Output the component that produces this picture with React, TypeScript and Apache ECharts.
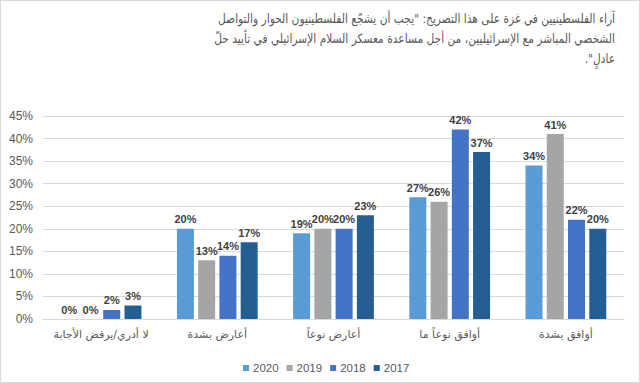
import React, { useEffect, useRef } from "react";
import * as echarts from "echarts";

const categories = [
  "لا أدري/يرفض الأجابة",
  "أعارض بشدة",
  "أعارض نوعاً",
  "أوافق نوعاً ما",
  "أوافق بشدة",
];
const seriesNames = ["2020", "2019", "2018", "2017"];
const values2020 = [0, 20, 19, 27, 34];
const values2019 = [0, 13, 20, 26, 41];
const values2018 = [2, 14, 20, 42, 22];
const values2017 = [3, 17, 23, 37, 20];
const colors = ["#5B9BD5", "#A5A5A5", "#4472C4", "#255E91"];
const titleLines = [
  "آراء الفلسطينيين في غزة على هذا التصريح: \"يجب أن يشجّع الفلسطينيون الحوار والتواصل",
  "الشخصي المباشر مع الإسرائيليين، من أجل مساعدة معسكر السلام الإسرائيلي في تأييد حلّ",
  "عادلٍ\".",
];

export default function App() {
  const ref = useRef<HTMLDivElement>(null);
  useEffect(() => {
    if (!ref.current) return;
    const chart = echarts.init(ref.current, null, { renderer: "svg" });
    const all = [values2020, values2019, values2018, values2017];
    chart.setOption({
      animation: false,
      backgroundColor: "#ffffff",
      graphic: titleLines.map((line, i) => ({
        type: "text",
        x: 614,
        y: 11 + i * 20,
        scaleX: 0.82,
        style: {
          text: "\u200F" + line + "\u200F",
          align: "right",
          verticalAlign: "top",
          fill: "#595959",
          font: "13px 'DejaVu Sans'",
        },
      })),
      legend: {
        left: 237,
        top: 356,
        itemWidth: 6,
        itemHeight: 6,
        itemGap: 8,
        icon: "rect",
        textStyle: { color: "#595959", fontSize: 11.5, fontFamily: "Liberation Sans", padding: [0, 0, 0, -1] },
        data: seriesNames,
      },
      grid: { left: 42, right: 15, top: 115, bottom: 63 },
      xAxis: {
        type: "category",
        data: categories,
        axisTick: { show: false },
        axisLine: { lineStyle: { color: "#d9d9d9" } },
        axisLabel: {
          interval: 0,
          color: "#595959",
          fontSize: 11,
          fontFamily: "DejaVu Sans",
          margin: 10,
        },
      },
      yAxis: {
        type: "value",
        min: 0,
        max: 45,
        interval: 5,
        axisLabel: {
          formatter: "{value}%",
          color: "#595959",
          fontSize: 12,
          fontFamily: "Liberation Sans",
          margin: 10,
        },
        splitLine: { lineStyle: { color: "#d9d9d9" } },
        axisLine: { show: false },
        axisTick: { show: false },
      },
      series: seriesNames.map((name, i) => ({
        name,
        type: "bar",
        data: all[i],
        barWidth: 17,
        barGap: "25%",
        itemStyle: { color: colors[i] },
        label: {
          show: true,
          position: "top",
          formatter: "{c}%",
          color: "#404040",
          fontSize: 11,
          fontWeight: "bold",
          fontFamily: "Liberation Sans",
          distance: 4,
        },
      })),
    });
    return () => chart.dispose();
  }, []);
  return (
    <div
      style={{
        position: "fixed",
        left: 0,
        top: 0,
        width: 640,
        height: 383,
        boxSizing: "border-box",
        border: "1px solid #d9d9d9",
        background: "#fff",
      }}
    >
      <div ref={ref} style={{ width: 638, height: 381 }} />
    </div>
  );
}
